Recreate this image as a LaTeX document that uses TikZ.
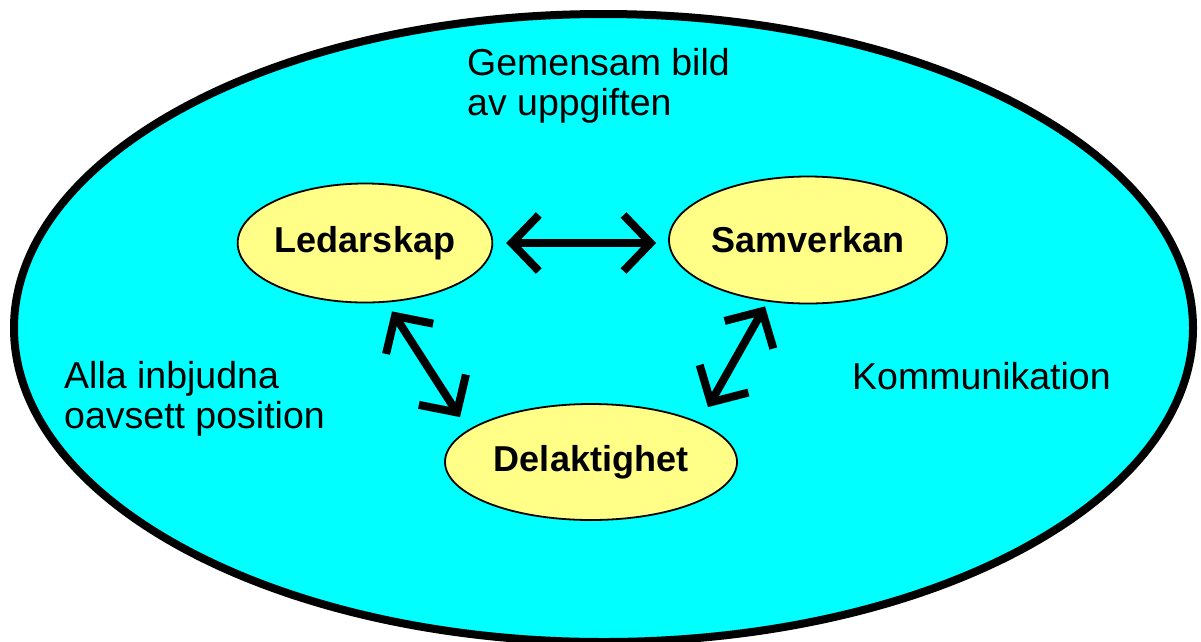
\documentclass[tikz,border=0pt]{standalone}
\usepackage{fontspec}
\setmainfont{Liberation Sans}
\usetikzlibrary{arrows.meta,shapes.geometric}
\definecolor{sky}{RGB}{0,255,255}
\definecolor{pale}{RGB}{255,255,136}
\tikzstyle{field}=[ellipse, draw=black, line width=8pt, fill=sky, inner sep=0pt, minimum width=1179pt, minimum height=628pt]
\tikzstyle{topic}=[ellipse, draw=black, line width=1.8pt, fill=pale, inner sep=0pt, font=\bfseries\fontsize{36}{40}\selectfont]
\tikzstyle{note}=[anchor=base west, align=left, inner sep=0pt, font=\fontsize{37.5}{40}\selectfont]
\tikzstyle{both}=[line width=8pt, line cap=round, {Straight Barb[length=27pt,width=56pt]}-{Straight Barb[length=27pt,width=56pt]}]

\begin{document}
\begin{tikzpicture}[x=1pt, y=-1pt]
    \useasboundingbox (0,0) rectangle (1201,641);
    \node[field] (F) at (603.5,328) {};
    \node[topic, minimum width=254pt, minimum height=119pt] (L) at (365,243) {Ledarskap};
    \node[topic, minimum width=278pt, minimum height=127pt] (S) at (808,240) {Samverkan};
    \node[topic, minimum width=292pt, minimum height=116pt] (D) at (591,462) {Delaktighet};
    % base sits on the last line
    \node[note] (t1) at (467,115) {Gemensam bild\\av uppgiften};
    \node[note] (t2) at (64,428) {Alla inbjudna\\oavsett position};
    \node[note] (t3) at (852,389) {Kommunikation};
    \draw[both] ([xshift=13pt]L.east) -- ([xshift=-12pt]L.east -| S.west);
    \draw[both] ([shift={(27,8)}]L.south) -- ([shift={(-131,14)}]D.north);
    \draw[both] ([shift={(-43,2)}]S.south) -- ([shift={(117,4)}]D.north);
\end{tikzpicture}
\end{document}
